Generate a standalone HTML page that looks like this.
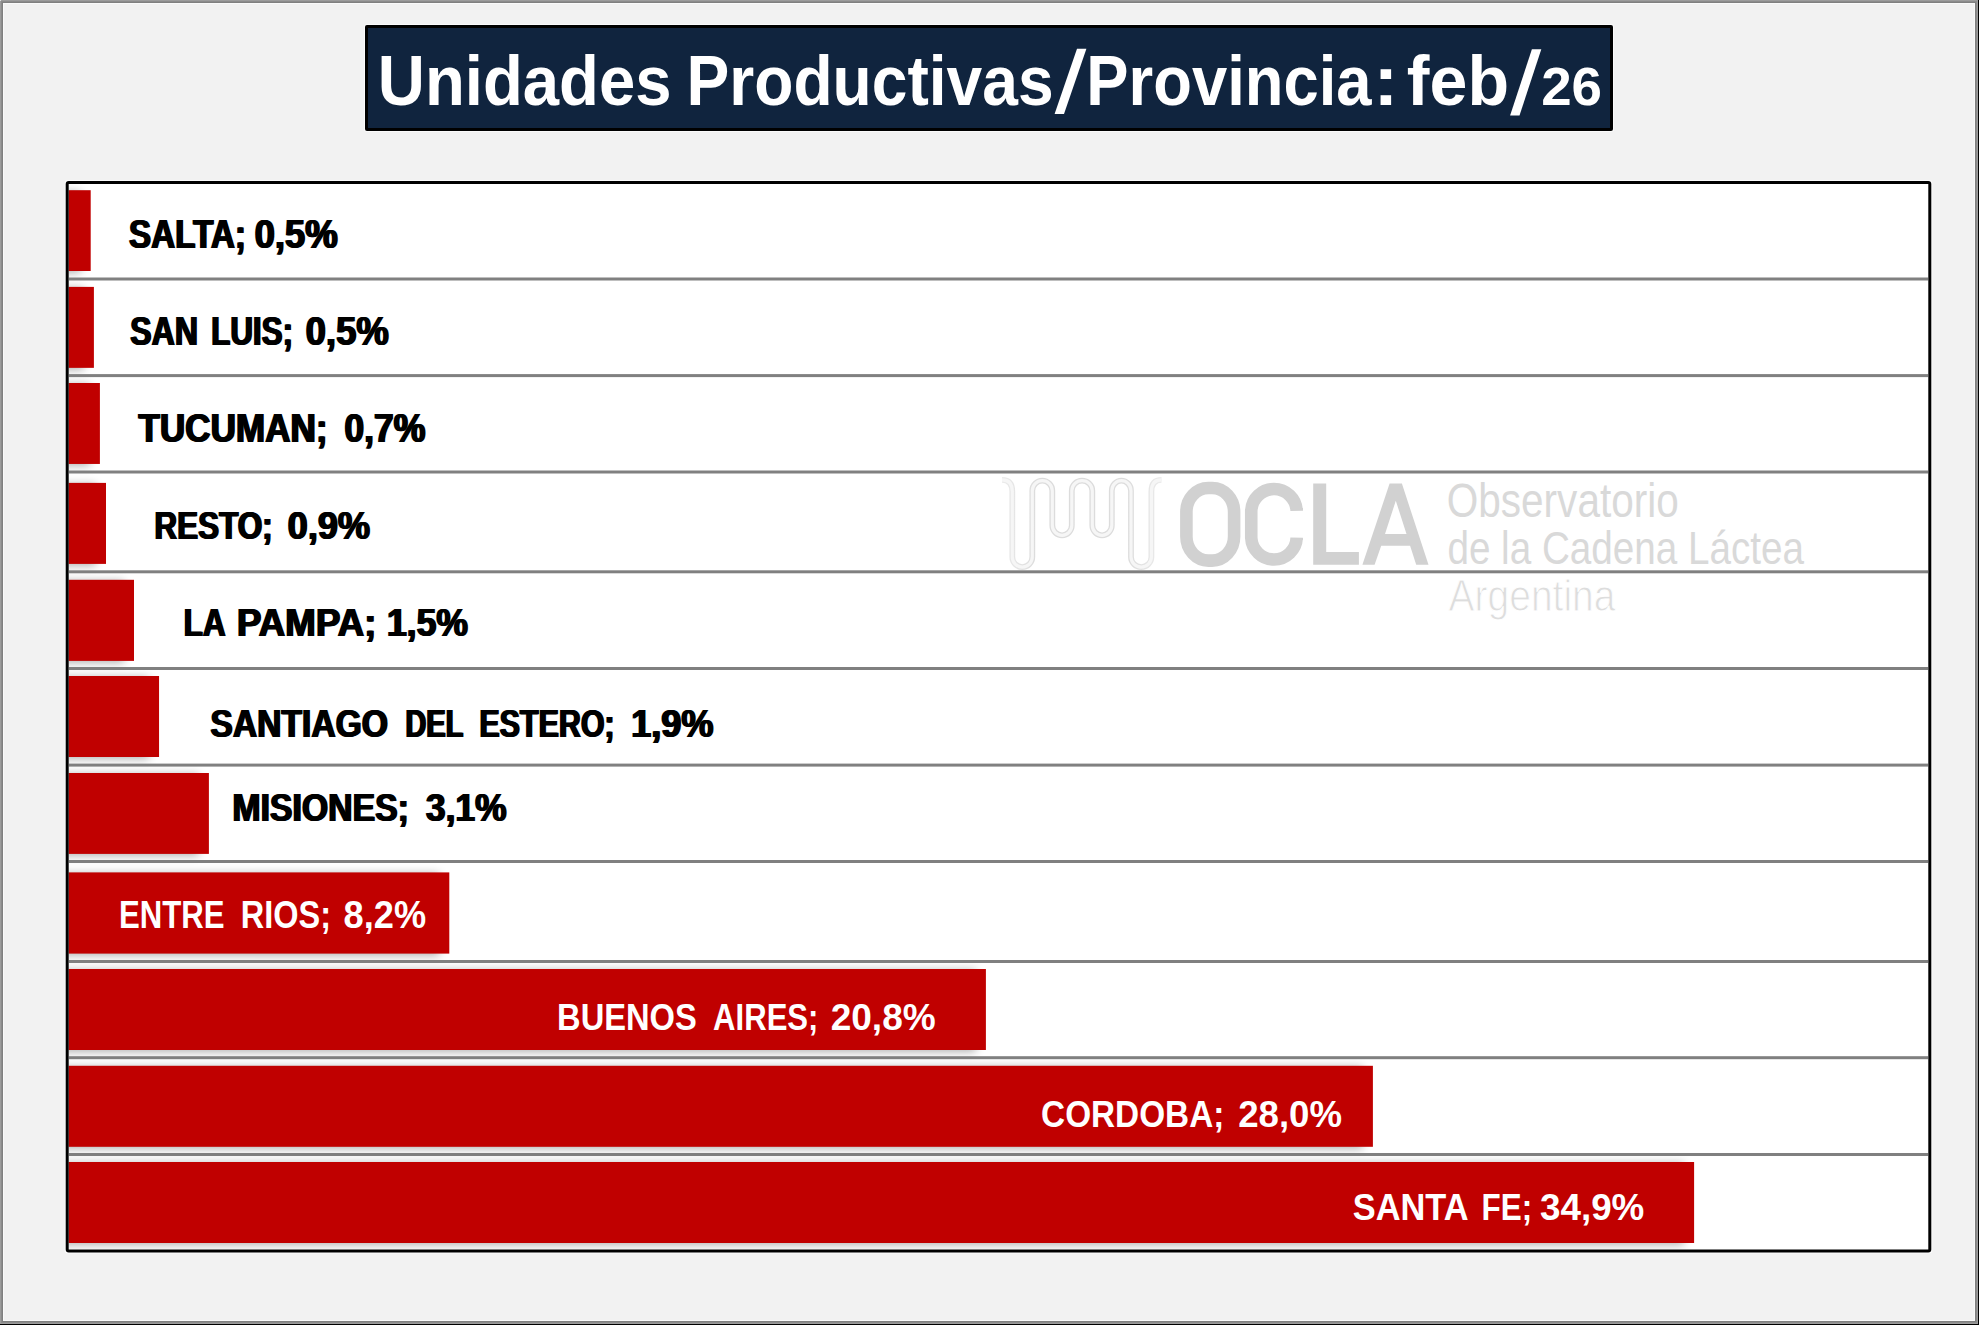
<!DOCTYPE html>
<html><head><meta charset="utf-8"><title>Unidades Productivas/Provincia</title>
<style>html,body{margin:0;padding:0;background:#f2f2f2;}body{width:1979px;height:1325px;overflow:hidden;position:relative;font-family:"Liberation Sans",sans-serif;}</style>
</head><body>
<svg width="1979" height="1325" viewBox="0 0 1979 1325" style="position:absolute;left:0;top:0;display:block" font-family="Liberation Sans, sans-serif">
<defs>
<filter id="sh" x="-5%" y="-50%" width="110%" height="200%"><feGaussianBlur stdDeviation="5.0"/></filter>
<clipPath id="pc"><rect x="68.70" y="184.00" width="1859.60" height="1065.60"/></clipPath>
<linearGradient id="wg" gradientUnits="userSpaceOnUse" x1="1000" y1="0" x2="1163" y2="0"><stop offset="0" stop-color="#ececec"/><stop offset="0.22" stop-color="#dcdcdc"/><stop offset="0.78" stop-color="#dcdcdc"/><stop offset="1" stop-color="#ececec"/></linearGradient>
</defs>
<rect x="0" y="0" width="1979" height="1325" fill="#000"/>
<rect x="0" y="0" width="1978" height="1324" fill="#9c9c9c"/>
<rect x="1" y="1" width="1976" height="1322" fill="#8c8c8c"/>
<rect x="2" y="2" width="1974" height="1320" fill="#808080"/>
<rect x="3" y="3" width="1972" height="1318" fill="#fafafa"/>
<rect x="4" y="4" width="1970" height="1316" fill="#f2f2f2"/>
<rect x="0" y="0" width="1" height="1" fill="#e0e0e0"/>
<rect x="364" y="24" width="1250" height="108" rx="3" fill="#fbfbfb"/>
<rect x="365" y="25" width="1248" height="106" rx="2" fill="#000"/>
<rect x="368" y="28" width="1242" height="100" fill="#10243e"/>
<text transform="translate(377.84 104.60) scale(0.9314 1)" font-size="70.06" font-weight="bold" fill="#fff">Unidades</text>
<text transform="translate(686.59 104.60) scale(0.9152 1)" font-size="70.06" font-weight="bold" fill="#fff">Productivas</text>
<text transform="translate(1086.34 104.60) scale(0.9044 1)" font-size="70.06" font-weight="bold" fill="#fff">Provincia</text>
<text transform="translate(1373.54 104.60) scale(1.0597 1)" font-size="70.06" font-weight="bold" fill="#fff">:</text>
<text transform="translate(1406.84 104.60) scale(0.9724 1)" font-size="70.06" font-weight="bold" fill="#fff">feb</text>
<polygon points="1054.60,114.10 1064.00,114.10 1086.40,48.80 1077.00,48.80" fill="#fff"/>
<polygon points="1510.10,115.40 1519.50,115.40 1541.30,49.30 1531.90,49.30" fill="#fff"/>
<text transform="translate(1541.19 104.50) scale(1.0100 1)" font-size="54.19" font-weight="bold" fill="#fff">26</text>
<rect x="64.70" y="180.00" width="1867.60" height="1073.60" rx="3" fill="#fafafa"/>
<rect x="65.70" y="181.00" width="1865.60" height="1071.60" fill="#fff"/>
<g id="wm">
<path d="M1002 479.8 Q1012.3 479.8 1012.3 491.5 V557.1 A10 10 0 0 0 1032.3 557.1 V490.7 A10 10 0 0 1 1052.3 490.7 V525.3 A9.75 10 0 0 0 1071.8 525.3 V490.7 A10.25 10 0 0 1 1092.3 490.7 V525.3 A9.75 10 0 0 0 1111.8 525.3 V490.7 A9.6 10 0 0 1 1131 490.7 V557.1 A10.2 10 0 0 0 1151.4 557.1 V491.5 Q1151.4 479.8 1161.5 479.8" fill="none" stroke="url(#wg)" stroke-width="5.8"/>
<path d="M1002 479.8 Q1012.3 479.8 1012.3 491.5 V557.1 A10 10 0 0 0 1032.3 557.1 V490.7 A10 10 0 0 1 1052.3 490.7 V525.3 A9.75 10 0 0 0 1071.8 525.3 V490.7 A10.25 10 0 0 1 1092.3 490.7 V525.3 A9.75 10 0 0 0 1111.8 525.3 V490.7 A9.6 10 0 0 1 1131 490.7 V557.1 A10.2 10 0 0 0 1151.4 557.1 V491.5 Q1151.4 479.8 1161.5 479.8" fill="none" stroke="#f6f6f6" stroke-width="3.2"/>
<rect x="1186.4" y="488.0" width="47.7" height="72.6" rx="22" ry="24" fill="none" stroke="#d1d1d1" stroke-width="12.6"/>
<path d="M1296.7 508.0 V510.8 A22.75 22.8 0 0 0 1251.25 510.8 V537.8 A22.75 22.8 0 0 0 1296.7 537.8 V540.0" fill="none" stroke="#d1d1d1" stroke-width="12.6"/>
<path d="M1313.2 483.6 H1326.2 V551.9 H1358.9 V564.8 H1313.2 Z" fill="#d1d1d1"/>
<path d="M1389.6 483.6 H1401.9 L1428.5 564.8 H1416.2 L1410.1 545.7 H1381.2 L1374.6 564.8 H1362.4 Z M1395.8 500.7 L1385.0 534.1 H1406.5 Z" fill="#d1d1d1" fill-rule="evenodd"/>
<text transform="translate(1446.70 516.90) scale(0.8429 1)" font-size="48.11" font-weight="normal" fill="#d9d9d9">Observatorio</text>
<text transform="translate(1447.39 564.00) scale(0.8365 1)" font-size="46.22" font-weight="normal" fill="#d9d9d9">de la Cadena Láctea</text>
<text transform="translate(1448.60 610.70) scale(0.8706 1)" font-size="44.77" font-weight="normal" fill="#dddddd" stroke="#fff" stroke-width="1.0">Argentina</text>
</g>
<g clip-path="url(#pc)">
<g filter="url(#sh)" opacity="0.33">
<rect x="28.70" y="191.70" width="52.00" height="80.80" fill="#000"/>
<rect x="28.70" y="288.40" width="55.20" height="80.95" fill="#000"/>
<rect x="28.70" y="384.50" width="61.20" height="80.95" fill="#000"/>
<rect x="28.70" y="484.40" width="67.30" height="81.00" fill="#000"/>
<rect x="28.70" y="581.30" width="95.30" height="81.10" fill="#000"/>
<rect x="28.70" y="677.50" width="120.35" height="81.00" fill="#000"/>
<rect x="28.70" y="774.50" width="170.20" height="80.90" fill="#000"/>
<rect x="28.70" y="873.90" width="410.60" height="81.20" fill="#000"/>
<rect x="28.70" y="970.50" width="947.20" height="81.00" fill="#000"/>
<rect x="28.70" y="1067.30" width="1334.20" height="81.00" fill="#000"/>
<rect x="28.70" y="1163.50" width="1655.40" height="81.00" fill="#000"/>
</g>
<rect x="68.70" y="277.50" width="1859.60" height="3" fill="#808080"/>
<rect x="68.70" y="374.10" width="1859.60" height="3" fill="#808080"/>
<rect x="68.70" y="470.50" width="1859.60" height="3" fill="#808080"/>
<rect x="68.70" y="570.30" width="1859.60" height="3" fill="#808080"/>
<rect x="68.70" y="667.00" width="1859.60" height="3" fill="#808080"/>
<rect x="68.70" y="763.60" width="1859.60" height="3" fill="#808080"/>
<rect x="68.70" y="860.00" width="1859.60" height="3" fill="#808080"/>
<rect x="68.70" y="960.00" width="1859.60" height="3" fill="#808080"/>
<rect x="68.70" y="1056.20" width="1859.60" height="3" fill="#808080"/>
<rect x="68.70" y="1153.00" width="1859.60" height="3" fill="#808080"/>
<rect x="67.70" y="190.20" width="23.00" height="80.80" fill="#c00000"/>
<rect x="67.70" y="286.90" width="26.20" height="80.95" fill="#c00000"/>
<rect x="67.70" y="383.00" width="32.20" height="80.95" fill="#c00000"/>
<rect x="67.70" y="482.90" width="38.30" height="81.00" fill="#c00000"/>
<rect x="67.70" y="579.80" width="66.30" height="81.10" fill="#c00000"/>
<rect x="67.70" y="676.00" width="91.35" height="81.00" fill="#c00000"/>
<rect x="67.70" y="773.00" width="141.20" height="80.90" fill="#c00000"/>
<rect x="67.70" y="872.40" width="381.60" height="81.20" fill="#c00000"/>
<rect x="67.70" y="969.00" width="918.20" height="81.00" fill="#c00000"/>
<rect x="67.70" y="1065.80" width="1305.20" height="81.00" fill="#c00000"/>
<rect x="67.70" y="1162.00" width="1626.40" height="81.00" fill="#c00000"/>
</g>
<rect x="67.20" y="182.50" width="1862.60" height="1068.60" rx="1.5" fill="none" stroke="#000" stroke-width="3"/>
<text transform="translate(127.98 247.70) scale(0.8186 1)" font-size="40.70" font-weight="bold" fill="#000">SALTA;</text><text transform="translate(128.88 247.70) scale(0.8186 1)" font-size="40.70" font-weight="bold" fill="#000">SALTA;</text><text transform="translate(129.78 247.70) scale(0.8186 1)" font-size="40.70" font-weight="bold" fill="#000">SALTA;</text>
<text transform="translate(253.66 247.70) scale(0.8964 1)" font-size="40.70" font-weight="bold" fill="#000">0,5%</text><text transform="translate(254.56 247.70) scale(0.8964 1)" font-size="40.70" font-weight="bold" fill="#000">0,5%</text><text transform="translate(255.46 247.70) scale(0.8964 1)" font-size="40.70" font-weight="bold" fill="#000">0,5%</text>
<text transform="translate(129.30 344.80) scale(0.7949 1)" font-size="40.41" font-weight="bold" fill="#000">SAN</text><text transform="translate(130.20 344.80) scale(0.7949 1)" font-size="40.41" font-weight="bold" fill="#000">SAN</text><text transform="translate(131.10 344.80) scale(0.7949 1)" font-size="40.41" font-weight="bold" fill="#000">SAN</text>
<text transform="translate(210.24 344.80) scale(0.7760 1)" font-size="40.41" font-weight="bold" fill="#000">LUIS;</text><text transform="translate(211.14 344.80) scale(0.7760 1)" font-size="40.41" font-weight="bold" fill="#000">LUIS;</text><text transform="translate(212.04 344.80) scale(0.7760 1)" font-size="40.41" font-weight="bold" fill="#000">LUIS;</text>
<text transform="translate(304.76 344.80) scale(0.9029 1)" font-size="40.41" font-weight="bold" fill="#000">0,5%</text><text transform="translate(305.66 344.80) scale(0.9029 1)" font-size="40.41" font-weight="bold" fill="#000">0,5%</text><text transform="translate(306.56 344.80) scale(0.9029 1)" font-size="40.41" font-weight="bold" fill="#000">0,5%</text>
<text transform="translate(137.50 442.40) scale(0.8818 1)" font-size="39.83" font-weight="bold" fill="#000">TUCUMAN;</text><text transform="translate(138.40 442.40) scale(0.8818 1)" font-size="39.83" font-weight="bold" fill="#000">TUCUMAN;</text><text transform="translate(139.30 442.40) scale(0.8818 1)" font-size="39.83" font-weight="bold" fill="#000">TUCUMAN;</text>
<text transform="translate(343.39 442.40) scale(0.8936 1)" font-size="39.83" font-weight="bold" fill="#000">0,7%</text><text transform="translate(344.29 442.40) scale(0.8936 1)" font-size="39.83" font-weight="bold" fill="#000">0,7%</text><text transform="translate(345.19 442.40) scale(0.8936 1)" font-size="39.83" font-weight="bold" fill="#000">0,7%</text>
<text transform="translate(153.53 539.30) scale(0.7928 1)" font-size="39.68" font-weight="bold" fill="#000">RESTO;</text><text transform="translate(154.43 539.30) scale(0.7928 1)" font-size="39.68" font-weight="bold" fill="#000">RESTO;</text><text transform="translate(155.33 539.30) scale(0.7928 1)" font-size="39.68" font-weight="bold" fill="#000">RESTO;</text>
<text transform="translate(286.77 539.30) scale(0.9115 1)" font-size="39.68" font-weight="bold" fill="#000">0,9%</text><text transform="translate(287.67 539.30) scale(0.9115 1)" font-size="39.68" font-weight="bold" fill="#000">0,9%</text><text transform="translate(288.57 539.30) scale(0.9115 1)" font-size="39.68" font-weight="bold" fill="#000">0,9%</text>
<text transform="translate(182.63 636.30) scale(0.7954 1)" font-size="39.68" font-weight="bold" fill="#000">LA</text><text transform="translate(183.53 636.30) scale(0.7954 1)" font-size="39.68" font-weight="bold" fill="#000">LA</text><text transform="translate(184.43 636.30) scale(0.7954 1)" font-size="39.68" font-weight="bold" fill="#000">LA</text>
<text transform="translate(235.90 636.30) scale(0.9272 1)" font-size="39.68" font-weight="bold" fill="#000">PAMPA;</text><text transform="translate(236.80 636.30) scale(0.9272 1)" font-size="39.68" font-weight="bold" fill="#000">PAMPA;</text><text transform="translate(237.70 636.30) scale(0.9272 1)" font-size="39.68" font-weight="bold" fill="#000">PAMPA;</text>
<text transform="translate(386.08 636.30) scale(0.8947 1)" font-size="39.68" font-weight="bold" fill="#000">1,5%</text><text transform="translate(386.98 636.30) scale(0.8947 1)" font-size="39.68" font-weight="bold" fill="#000">1,5%</text><text transform="translate(387.88 636.30) scale(0.8947 1)" font-size="39.68" font-weight="bold" fill="#000">1,5%</text>
<text transform="translate(209.47 736.50) scale(0.8510 1)" font-size="39.54" font-weight="bold" fill="#000">SANTIAGO</text><text transform="translate(210.37 736.50) scale(0.8510 1)" font-size="39.54" font-weight="bold" fill="#000">SANTIAGO</text><text transform="translate(211.27 736.50) scale(0.8510 1)" font-size="39.54" font-weight="bold" fill="#000">SANTIAGO</text>
<text transform="translate(404.38 736.50) scale(0.7349 1)" font-size="39.54" font-weight="bold" fill="#000">DEL</text><text transform="translate(405.28 736.50) scale(0.7349 1)" font-size="39.54" font-weight="bold" fill="#000">DEL</text><text transform="translate(406.18 736.50) scale(0.7349 1)" font-size="39.54" font-weight="bold" fill="#000">DEL</text>
<text transform="translate(478.50 736.50) scale(0.7695 1)" font-size="39.54" font-weight="bold" fill="#000">ESTERO;</text><text transform="translate(479.40 736.50) scale(0.7695 1)" font-size="39.54" font-weight="bold" fill="#000">ESTERO;</text><text transform="translate(480.30 736.50) scale(0.7695 1)" font-size="39.54" font-weight="bold" fill="#000">ESTERO;</text>
<text transform="translate(630.24 736.50) scale(0.9141 1)" font-size="39.54" font-weight="bold" fill="#000">1,9%</text><text transform="translate(631.14 736.50) scale(0.9141 1)" font-size="39.54" font-weight="bold" fill="#000">1,9%</text><text transform="translate(632.04 736.50) scale(0.9141 1)" font-size="39.54" font-weight="bold" fill="#000">1,9%</text>
<text transform="translate(231.49 820.70) scale(0.8554 1)" font-size="39.54" font-weight="bold" fill="#000">MISIONES;</text><text transform="translate(232.39 820.70) scale(0.8554 1)" font-size="39.54" font-weight="bold" fill="#000">MISIONES;</text><text transform="translate(233.29 820.70) scale(0.8554 1)" font-size="39.54" font-weight="bold" fill="#000">MISIONES;</text>
<text transform="translate(424.95 820.70) scale(0.8950 1)" font-size="39.54" font-weight="bold" fill="#000">3,1%</text><text transform="translate(425.85 820.70) scale(0.8950 1)" font-size="39.54" font-weight="bold" fill="#000">3,1%</text><text transform="translate(426.75 820.70) scale(0.8950 1)" font-size="39.54" font-weight="bold" fill="#000">3,1%</text>
<text transform="translate(118.95 928.20) scale(0.8117 1)" font-size="38.37" font-weight="bold" fill="#fff">ENTRE</text>
<text transform="translate(240.77 928.20) scale(0.8465 1)" font-size="38.37" font-weight="bold" fill="#fff">RIOS;</text>
<text transform="translate(343.57 928.20) scale(0.9438 1)" font-size="38.37" font-weight="bold" fill="#fff">8,2%</text>
<text transform="translate(557.06 1030.00) scale(0.8647 1)" font-size="37.79" font-weight="bold" fill="#fff">BUENOS</text>
<text transform="translate(713.11 1030.00) scale(0.8227 1)" font-size="37.79" font-weight="bold" fill="#fff">AIRES;</text>
<text transform="translate(830.64 1030.00) scale(0.9807 1)" font-size="37.79" font-weight="bold" fill="#fff">20,8%</text>
<text transform="translate(1041.06 1127.00) scale(0.8820 1)" font-size="37.79" font-weight="bold" fill="#fff">CORDOBA;</text>
<text transform="translate(1238.16 1127.00) scale(0.9693 1)" font-size="37.79" font-weight="bold" fill="#fff">28,0%</text>
<text transform="translate(1352.76 1219.70) scale(0.9099 1)" font-size="37.79" font-weight="bold" fill="#fff">SANTA</text>
<text transform="translate(1481.54 1219.70) scale(0.8307 1)" font-size="37.79" font-weight="bold" fill="#fff">FE;</text>
<text transform="translate(1539.92 1219.70) scale(0.9752 1)" font-size="37.79" font-weight="bold" fill="#fff">34,9%</text>
</svg>
</body></html>
